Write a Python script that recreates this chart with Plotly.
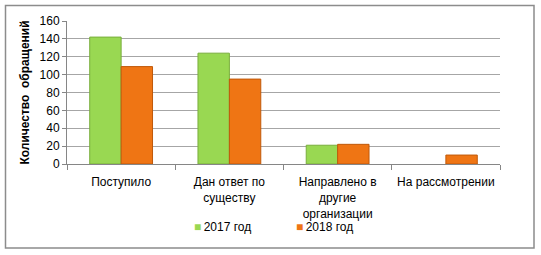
import plotly.graph_objects as go

categories = ["Поступило", "Дан ответ по<br>существу", "Направлено в<br>другие<br>организации", "На рассмотрении"]
series_names = ["2017 год", "2018 год"]
values_2017 = [142, 124, 21, None]
values_2018 = [109, 95, 22, 10]
y_ticks = [0, 20, 40, 60, 80, 100, 120, 140, 160]
colors = ["#99D852", "#EF7514"]
edge_colors = ["#79AE3C", "#C0590A"]

W, H = 541, 255
ml, mr, mt, mb = 67, 41, 21, 91
pw, ph = W - ml - mr, H - mt - mb

def px_x(p):
    return (p - ml) / pw

def px_y(p):
    return (H - mb - p) / ph

font = "Liberation Sans"

fig = go.Figure()
for vals, name, c, ec in zip([values_2017, values_2018], series_names, colors, edge_colors):
    fig.add_trace(go.Bar(x=categories, y=vals, name=name, showlegend=False,
                         marker=dict(color=c, line=dict(color=ec, width=1))))
    # legend entry: small coloured square drawn as a glyph in the legend text
    fig.add_trace(go.Scatter(x=[None], y=[None], mode="markers", name=
                             f"<span style='color:{c}'>■</span>\u2009{name}",
                             marker=dict(color="rgba(0,0,0,0)", size=1),
                             hoverinfo="skip"))

fig.update_layout(
    width=W, height=H,
    margin=dict(l=ml, r=mr, t=mt, b=mb),
    paper_bgcolor="white", plot_bgcolor="white",
    barmode="group", bargap=0.42, bargroupgap=0,
    font=dict(family=font, size=12, color="black"),
    showlegend=True,
    legend=dict(orientation="h", x=px_x(196 - 42), xanchor="left", y=px_y(226), yanchor="middle",
                entrywidth=57, entrywidthmode="pixels", itemwidth=30,
                font=dict(family=font, size=12, color="black"),
                bgcolor="rgba(0,0,0,0)"),
    shapes=[dict(type="rect", xref="paper", yref="paper",
                 x0=px_x(5.5), x1=px_x(534), y0=px_y(248), y1=px_y(5.5),
                 line=dict(color="#8C8C8C", width=1.5), fillcolor="rgba(0,0,0,0)", layer="below")],
)
fig.update_yaxes(range=[0, 160], tickvals=y_ticks, showgrid=True, gridcolor="#A6A6A6", gridwidth=1,
                 showline=True, linecolor="#868686", ticks="outside", ticklen=4, tickcolor="#868686",
                 tickfont=dict(size=12), zeroline=False,
                 title=dict(text="<b>Количество  обращений</b>", font=dict(size=12), standoff=7))
fig.update_xaxes(showline=True, linecolor="#868686", ticks="outside", ticklen=5, tickcolor="#868686",
                 tickson="boundaries", tickangle=0, ticklabelstandoff=7, tickfont=dict(size=12))

fig.write_html("out.html")
